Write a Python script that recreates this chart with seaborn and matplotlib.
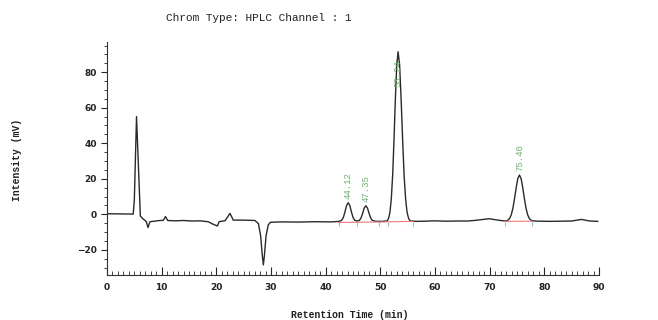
import matplotlib
matplotlib.use("Agg")
import matplotlib.pyplot as plt
import seaborn as sns
from matplotlib.ticker import MultipleLocator

# trace (time in min, signal in mV)
time = [0, 2.5, 4.8, 5.0, 5.4, 5.75, 6.1, 6.5, 7.2, 7.5, 7.85, 9.4, 10.3, 10.7, 11.1,
        12.5, 14, 15.5, 17, 18.5, 19.4, 20.2, 20.5, 21.6, 22.5, 23.1, 25, 27.05,
        27.7, 28.1, 28.4, 28.6, 28.8, 29.1, 29.5, 29.9, 32, 35, 38, 41, 42.5,
        42.92, 43.22, 43.52, 43.82, 44.12, 44.42, 44.72, 45.02, 45.32, 45.73,
        46.15, 46.45, 46.75, 47.05, 47.35, 47.65, 47.95, 48.25, 48.55, 49.2, 50.5,
        51.25, 51.5, 51.75, 52.0, 52.25, 52.5, 52.75, 53.0, 53.25, 53.53, 53.8,
        54.08, 54.35, 54.63, 54.9, 55.18, 55.45, 56.5, 58, 60, 62, 64, 66, 67.5,
        69.9, 71.5, 72.8, 73.05, 73.35, 73.65, 73.95, 74.25, 74.55, 74.85, 75.15,
        75.45, 75.75, 76.05, 76.35, 76.65, 76.95, 77.25, 77.55, 77.85, 79, 81, 83,
        85, 86.8, 88.3, 89.8]
signal = [0.3, 0.2, 0.1, 8, 55, 27, -1.0, -2.3, -4.2, -7.5, -4.2, -3.6, -3.4, -1.3, -3.5,
          -3.7, -3.5, -3.8, -3.7, -4.2, -5.6, -6.6, -4.2, -3.6, 0.5, -3.3, -3.3, -3.5,
          -5.3, -12, -23, -28.5, -23, -12, -6, -4.5, -4.3, -4.4, -4.2, -4.3, -4.0,
          -3.4, -1.9, 1.2, 4.9, 6.5, 4.9, 1.2, -1.9, -3.4, -3.8,
          -3.5, -2.2, 0.4, 3.5, 4.8, 3.5, 0.4, -2.2, -3.5, -4.0, -4.0,
          -3.7, -2.4, 0.9, 8.4, 21.8, 41.8, 64.9, 84.0, 91.5, 84.0, 64.9,
          41.8, 21.8, 8.4, 0.9, -2.4, -3.7, -4.0, -3.9, -3.7, -3.9, -3.8, -3.8, -3.4,
          -2.5, -3.3, -3.8, -3.7, -3.3, -2.35, -0.3, 3.4, 8.8, 15.0, 20.1,
          22.1, 20.1, 15.0, 8.8, 3.4, -0.3, -2.35, -3.3, -3.7, -3.9, -4.0, -3.9,
          -3.8, -2.9, -3.8, -4.0]

# integration baselines and peak marks
base_x = [42.4, 45.8, 49.7, 51.4, 56.0]
base_y = [-4.6, -4.5, -4.35, -4.25, -4.0]
base2_x = [72.8, 77.7]
base2_y = [-4.0, -3.9]
marks = [42.4, 45.8, 49.7, 51.4, 56.0, 72.8, 77.7]
peak_rt = [44.12, 47.35, 53.25, 75.45]
peak_lbl = ["44.12", "47.35", "53.24", "75.40"]
peak_lbl_y = [8.5, 6.8, 71.5, 24.5]

sns.set_style("ticks")
mono = ["Liberation Mono", "DejaVu Sans Mono"]

fig = plt.figure(figsize=(6.58, 3.2), dpi=100)
ax = fig.add_axes([107 / 658, 1 - 275 / 320, 492 / 658, 233 / 320])

sns.lineplot(x=time, y=signal, sort=False, color="#2a2a2a", linewidth=1.0, ax=ax)
sns.lineplot(x=base_x, y=base_y, sort=False, color="#ec7a7a", linewidth=0.8, ax=ax)
sns.lineplot(x=base2_x, y=base2_y, sort=False, color="#ec7a7a", linewidth=0.8, ax=ax)
ax.scatter(marks, [-5.6] * len(marks), marker="|", s=10, color="#86c9c4", linewidths=0.8)

for rt, lbl, ly in zip(peak_rt, peak_lbl, peak_lbl_y):
    ax.text(rt, ly, lbl, rotation=90, ha="center", va="bottom", color="#6cb36c",
            fontsize=6.5, family=mono)

ax.set_xlim(0, 90)
ax.set_ylim(-34.2, 97)
ax.xaxis.set_major_locator(MultipleLocator(10))
ax.xaxis.set_minor_locator(MultipleLocator(1))
ax.yaxis.set_major_locator(MultipleLocator(20))
ax.yaxis.set_minor_locator(MultipleLocator(5))
ax.tick_params(axis="x", which="major", direction="in", length=6, width=0.8, pad=6)
ax.tick_params(axis="x", which="minor", direction="in", length=3, width=0.6)
ax.tick_params(axis="y", which="major", direction="out", length=4, width=0.8)
ax.tick_params(axis="y", which="minor", direction="out", length=2.5, width=0.6)
for lab in ax.get_xticklabels() + ax.get_yticklabels():
    lab.set_fontsize(6.5)
    lab.set_fontweight("bold")
    lab.set_color("#222222")
ax.set_xlabel("")
ax.set_ylabel("")
sns.despine(ax=ax)
for s in ["left", "bottom"]:
    ax.spines[s].set_linewidth(0.8)
    ax.spines[s].set_color("#333333")

fig.text(259 / 658, 1 - 18 / 320, "Chrom Type: HPLC Channel : 1", ha="center", va="center",
         fontsize=8, family=mono, color="#222222")
fig.text(350 / 658, 1 - 315 / 320, "Retention Time (min)", ha="center", va="center",
         fontsize=7, family=mono, fontweight="bold", color="#222222")
fig.text(17 / 658, 1 - 160 / 320, "Intensity (mV)", ha="center", va="center", rotation=90,
         fontsize=7, family=mono, fontweight="bold", color="#222222")

fig.savefig("out.png", dpi=100)
